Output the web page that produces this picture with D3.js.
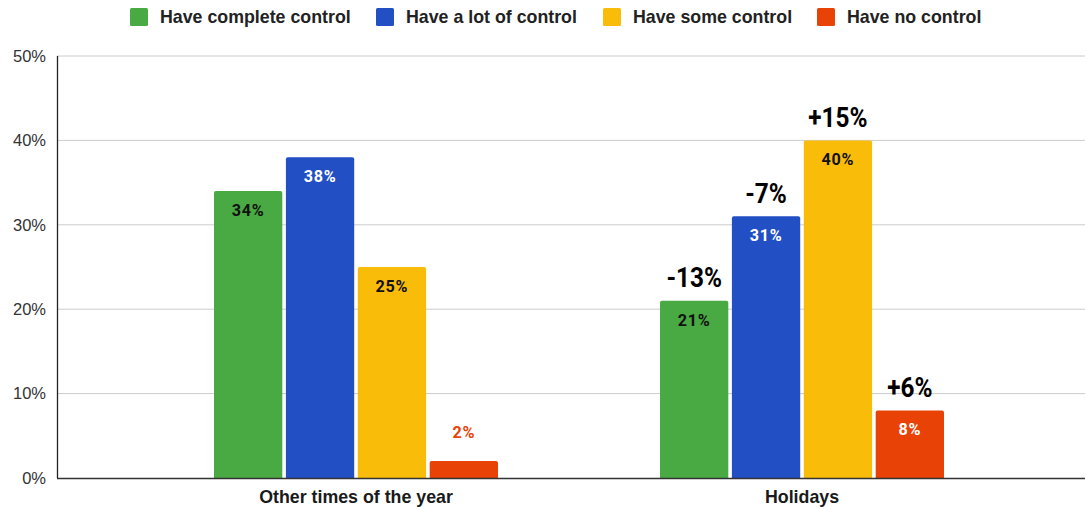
<!DOCTYPE html>
<html>
<head>
<meta charset="utf-8">
<script src="https://cdn.jsdelivr.net/npm/d3@7"></script>
<style>
  html, body { margin: 0; padding: 0; background: #fff; }
  svg { display: block; }
</style>
</head>
<body>
<svg id="chart" width="1087" height="507"></svg>
<script>
// Share of respondents by how much control they feel they have
const categories = ["Other times of the year", "Holidays"];
const seriesNames = ["Have complete control", "Have a lot of control", "Have some control", "Have no control"];
const seriesColors = ["#49a942", "#234fc5", "#f9bc08", "#e94206"];
const otherTimesValues = [34, 38, 25, 2];
const holidayValues = [21, 31, 40, 8];
const holidayChangeLabels = ["-13%", "-7%", "+15%", "+6%"];
const yTicks = [0, 10, 20, 30, 40, 50];

const valuesByCategory = [otherTimesValues, holidayValues];
const rows = [];
categories.forEach((cat, ci) => {
  seriesNames.forEach((s, si) => {
    rows.push({ cat, ci, series: s, si, value: valuesByCategory[ci][si] });
  });
});

const svg = d3.select("#chart");
const plotLeft = 57, plotRight = 1085, plotTop = 56, plotBottom = 478;

const y = d3.scaleLinear().domain([0, 50]).range([plotBottom, plotTop]);
const x0 = d3.scaleBand().domain(categories).range([133, 1025]).paddingInner(0).paddingOuter(0);
const x1 = d3.scaleBand().domain(seriesNames).range([0, 284]).paddingInner(0.05);
const groupOffset = (x0.bandwidth() - 284) / 2;

// gridlines
svg.append("g")
  .selectAll("line")
  .data(yTicks.filter(t => t > 0))
  .join("line")
  .attr("x1", plotLeft).attr("x2", plotRight)
  .attr("y1", d => y(d)).attr("y2", d => y(d))
  .attr("stroke", "#cccccc").attr("stroke-width", 1);

// y axis labels
const yAxis = d3.axisLeft(y).tickValues(yTicks).tickFormat(d => d + "%").tickSize(0).tickPadding(11);
const yg = svg.append("g").attr("transform", `translate(${plotLeft},0)`).call(yAxis);
yg.select(".domain").remove();
yg.selectAll("text")
  .attr("font-family", "Liberation Sans, Arial, sans-serif")
  .attr("font-size", 16.5).attr("fill", "#333");

// bars
const barX = d => x0(d.cat) + groupOffset + x1(d.series);
svg.append("g")
  .selectAll("path")
  .data(rows)
  .join("path")
  .attr("fill", d => seriesColors[d.si])
  .attr("d", d => {
    const xL = barX(d), w = x1.bandwidth(), yT = y(d.value), yB = y(0), r = 2;
    return `M${xL},${yB}V${yT + r}Q${xL},${yT} ${xL + r},${yT}H${xL + w - r}Q${xL + w},${yT} ${xL + w},${yT + r}V${yB}Z`;
  });

// axes lines
svg.append("line").attr("x1", plotLeft + 0.5).attr("x2", plotLeft + 0.5)
  .attr("y1", plotTop).attr("y2", plotBottom).attr("stroke", "#222").attr("stroke-width", 1.3);
svg.append("line").attr("x1", plotLeft).attr("x2", plotRight)
  .attr("y1", plotBottom + 0.5).attr("y2", plotBottom + 0.5).attr("stroke", "#333").attr("stroke-width", 1.3);

// value labels
const labelColor = d => {
  if (d.si === 1) return "#ffffff";
  if (d.si === 3) return d.value < 4 ? "#e94206" : "#ffffff";
  return "#111";
};
svg.append("g")
  .selectAll("text")
  .data(rows)
  .join("text")
  .attr("x", d => barX(d) + x1.bandwidth() / 2)
  .attr("y", d => d.value < 4 ? y(d.value) - 23 : y(d.value) + 25)
  .attr("text-anchor", "middle")
  .attr("font-family", "Roboto, sans-serif")
  .attr("font-weight", 700)
  .attr("font-size", 16.2)
  .attr("letter-spacing", 0.7)
  .attr("fill", labelColor)
  .text(d => d.value + "%");

// change labels above holiday bars (slightly condensed)
svg.append("g")
  .selectAll("text")
  .data(rows.filter(d => d.ci === 1))
  .join("text")
  .attr("transform", d => `translate(${barX(d) + x1.bandwidth() / 2},${y(d.value) - 13.5}) scale(0.87,1)`)
  .attr("text-anchor", "middle")
  .attr("font-family", "Roboto, sans-serif")
  .attr("font-weight", 700)
  .attr("font-size", 28)
  .attr("fill", "#000")
  .text(d => holidayChangeLabels[d.si]);

// category labels
svg.append("g")
  .selectAll("text")
  .data(categories)
  .join("text")
  .attr("x", d => x0(d) + x0.bandwidth() / 2)
  .attr("y", 503)
  .attr("text-anchor", "middle")
  .attr("font-family", "Liberation Sans, Arial, sans-serif")
  .attr("font-weight", 700)
  .attr("font-size", 17.8)
  .attr("fill", "#1a1a1a")
  .text(d => d);

// legend
const legendX = [130, 376, 603, 817];
const legend = svg.append("g").selectAll("g")
  .data(seriesNames)
  .join("g")
  .attr("transform", (d, i) => `translate(${legendX[i]},8)`);
legend.append("rect").attr("width", 18).attr("height", 18).attr("rx", 1.5)
  .attr("fill", (d, i) => seriesColors[i]);
legend.append("text").attr("x", 30).attr("y", 15)
  .attr("font-family", "Liberation Sans, Arial, sans-serif")
  .attr("font-weight", 700)
  .attr("font-size", 17.8).attr("fill", "#222")
  .text(d => d);
</script>
</body>
</html>
